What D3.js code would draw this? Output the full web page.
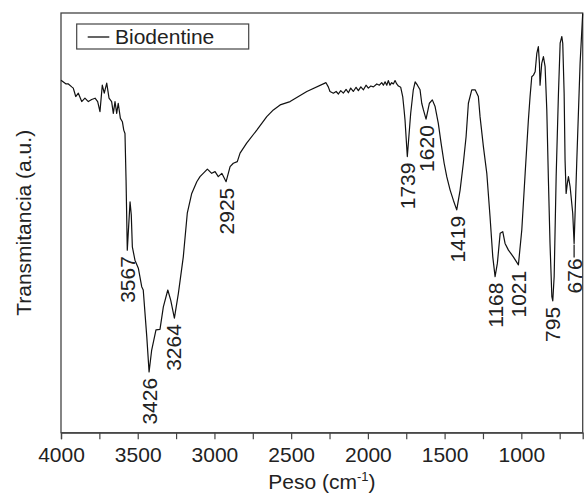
<!DOCTYPE html>
<html>
<head>
<meta charset="utf-8">
<script src="https://cdn.jsdelivr.net/npm/d3@7"></script>
<style>
  html, body { margin: 0; padding: 0; background: #fff; }
  svg { display: block; font-family: "Liberation Sans", Arial, sans-serif; }
</style>
</head>
<body>
<svg id="chart" width="585" height="497"></svg>
<script>
// Wavenumber (cm^-1) of each sampled point of the spectrum
const wavenumbers = [4000,3967,3952,3930,3920,3904,3887,3865,3844,3822,3800,3778,3761,3746,3731,3718,3702,3687,3670,3659,3648,3637,3627,3613,3600,3591,3583,3576,3568,3550,3542,3535,3518,3496,3474,3464,3441,3426,3409,3381,3355,3333,3304,3285,3261,3235,3203,3177,3148,3115,3094,3046,3018,2996,2975,2952,2924,2898,2877,2851,2833,2790,2724,2659,2616,2572,2507,2398,2273,2258,2247,2225,2207,2192,2177,2160,2142,2127,2112,2095,2077,2062,2046,2029,2012,1997,1981,1964,1942,1925,1910,1899,1888,1877,1867,1856,1845,1834,1823,1812,1801,1786,1773,1764,1758,1743,1721,1704,1692,1677,1660,1649,1638,1621,1599,1580,1562,1541,1523,1503,1486,1464,1443,1421,1399,1378,1360,1345,1323,1301,1280,1269,1247,1225,1204,1186,1171,1156,1138,1121,1106,1084,1052,1019,997,975,954,943,932,921,910,899,889,882,878,867,856,845,834,824,813,801,795,786,773,758,747,736,730,721,715,708,700,693,682,665,656,639,617,600];
// Transmittance (arbitrary units) at each wavenumber
const transmittance = [84.0,83.1,83.1,82.4,82.1,80.1,80.9,78.9,79.7,78.9,79.4,79.7,78.9,76.5,82.8,80.9,83.3,79.7,78.9,76.1,78.9,76.1,78.5,74.9,74.1,72.1,71.3,60.2,43.5,55.0,51.9,44.3,41.1,39.2,34.8,34.0,22.9,14.5,19.7,24.5,24.6,30.0,34.0,31.6,27.3,33.2,41.9,52.3,57.0,59.8,61.0,62.8,61.8,62.2,61.0,61.8,59.8,63.4,64.2,64.6,66.6,69.0,72.1,75.3,76.9,78.1,78.9,81.3,83.4,82.4,81.3,80.9,81.3,80.7,81.5,80.9,81.8,81.0,82.1,81.3,82.3,81.5,82.4,81.7,82.8,82.1,82.6,82.4,83.1,82.8,83.4,82.8,83.6,82.8,83.9,82.8,83.4,83.1,83.9,83.1,82.6,82.3,80.1,76.9,74.5,65.8,76.1,81.7,83.6,82.8,81.7,78.5,76.9,74.7,78.5,79.3,77.7,73.7,69.0,64.2,61.0,57.8,55.4,53.1,57.8,64.2,70.5,78.5,81.7,81.7,80.1,75.3,68.1,61.8,51.5,41.9,37.2,40.4,47.5,47.9,45.1,43.5,41.9,40.0,48.3,61.8,74.5,80.1,84.8,85.2,86.0,90.4,92.0,88.0,82.8,88.0,89.6,87.2,76.9,61.0,45.1,32.4,31.4,37.2,61.0,80.9,92.8,94.4,92.8,80.9,65.0,57.0,59.4,61.0,58.6,52.3,45.1,64.2,88.0,99.9];
// Annotated band positions
const peakLabels = [3567,3426,3264,2925,1739,1620,1419,1168,1021,795,676];
// Axis ticks
const xTicks = [4000,3750,3500,3250,3000,2750,2500,2250,2000,1750,1500,1250,1000,750];
const xTickLabels = [4000,3500,3000,2500,2000,1500,1000];
const seriesName = "Biodentine";

const svg = d3.select("#chart");
const L = 61, R = 582.7, T = 13, B = 432.7;
const x = d3.scaleLinear().domain([4000, 600]).range([L, R]);
const y = d3.scaleLinear().domain([0, 100]).range([B, T]);
const textColor = "#222";
const fs = 21;

const data = wavenumbers.map((w, i) => ({ w, v: transmittance[i] }));

// frame
svg.append("rect")
  .attr("x", L).attr("y", T).attr("width", R - L).attr("height", B - T)
  .attr("fill", "none").attr("stroke", "#444").attr("stroke-width", 1.3);

// x axis
const xAxis = d3.axisBottom(x)
  .tickValues(xTicks)
  .tickSize(6.5)
  .tickPadding(8)
  .tickFormat(d => xTickLabels.includes(d) ? String(d) : "");
const gx = svg.append("g").attr("transform", `translate(0,${B})`).call(xAxis);
gx.select(".domain").attr("stroke", "#444").attr("stroke-width", 1.3);
gx.selectAll(".tick line").attr("stroke", "#444").attr("stroke-width", 1.2);
gx.selectAll(".tick text")
  .attr("font-size", fs)
  .attr("font-family", '"Liberation Sans", Arial, sans-serif')
  .attr("fill", textColor)
  .attr("dy", null)
  .attr("y", 29);

// spectrum
const line = d3.line().x(d => x(d.w)).y(d => y(d.v));
svg.append("path")
  .datum(data)
  .attr("d", line)
  .attr("fill", "none")
  .attr("stroke", "#111")
  .attr("stroke-width", 1.2)
  .attr("stroke-linejoin", "round");

// peak labels
peakLabels.forEach(p => {
  const near = data.filter(d => Math.abs(d.w - p) <= 25);
  const vmin = d3.min(near, d => d.v);
  const py = y(vmin);
  const px = x(p);
  let top = py + 6;
  if (p === 676) {
    const mx = x(656);
    svg.append("line")
      .attr("x1", mx).attr("x2", mx)
      .attr("y1", py + 1).attr("y2", py + 14)
      .attr("stroke", "#111").attr("stroke-width", 1.2);
    top = py + 15;
    svg.append("text")
      .attr("transform", `translate(${mx},${top}) rotate(-90)`)
      .attr("text-anchor", "end")
      .attr("dy", "0.36em")
      .attr("font-size", fs)
      .attr("fill", textColor)
      .text(String(p));
    return;
  }
  svg.append("text")
    .attr("transform", `translate(${px},${top}) rotate(-90)`)
    .attr("text-anchor", "end")
    .attr("dy", "0.36em")
    .attr("font-size", fs)
    .attr("fill", textColor)
    .text(String(p));
});

// legend
svg.append("rect")
  .attr("x", 76.7).attr("y", 24).attr("width", 172).attr("height", 25)
  .attr("fill", "#fff").attr("stroke", "#444").attr("stroke-width", 1.2);
svg.append("line")
  .attr("x1", 87.7).attr("x2", 109.3).attr("y1", 37).attr("y2", 37)
  .attr("stroke", "#111").attr("stroke-width", 1.3);
svg.append("text")
  .attr("x", 115).attr("y", 44.3)
  .attr("font-size", fs).attr("fill", textColor)
  .text(seriesName);

// axis titles
const xt = svg.append("text")
  .attr("x", (L + R) / 2).attr("y", 489)
  .attr("text-anchor", "middle")
  .attr("font-size", fs).attr("fill", textColor);
xt.append("tspan").text("Peso (cm");
xt.append("tspan").attr("font-size", 13).attr("dy", -8).text("-1");
xt.append("tspan").attr("dy", 8).text(")");

svg.append("text")
  .attr("transform", `translate(31,${(T + B) / 2}) rotate(-90)`)
  .attr("text-anchor", "middle")
  .attr("font-size", fs).attr("fill", textColor)
  .text("Transmitancia (a.u.)");
</script>
</body>
</html>
